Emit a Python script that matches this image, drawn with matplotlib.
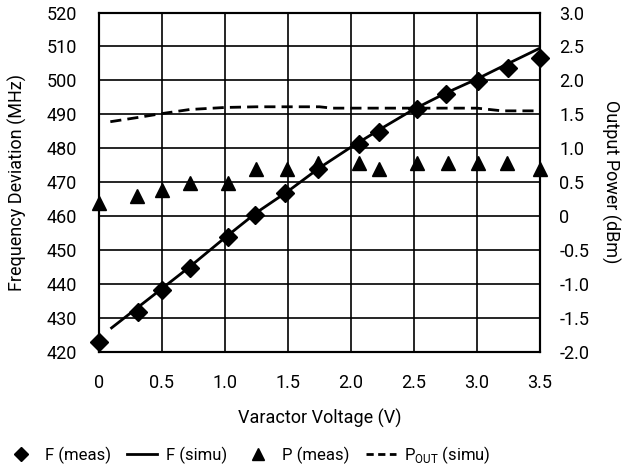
import matplotlib
matplotlib.use("Agg")
import matplotlib.pyplot as plt
from matplotlib.lines import Line2D

plt.rcParams['font.family'] = ['Roboto', 'DejaVu Sans']

# F (meas)
f_meas_v = [0, 0.31, 0.5, 0.72, 1.02, 1.24, 1.48, 1.735, 2.06, 2.22, 2.52, 2.755, 3.01, 3.25, 3.5]
f_meas = [422.7, 431.7, 438.3, 444.7, 453.7, 460.3, 466.7, 474.0, 481.2, 484.8, 491.5, 495.9, 499.9, 503.5, 506.5]

# F (simu)
f_simu_v = [0.1, 0.3, 0.5, 0.72, 1.0, 1.25, 1.5, 1.75, 2.0, 2.25, 2.5, 2.75, 3.0, 3.25, 3.5]
f_simu = [427.0, 432.8, 438.6, 445.0, 453.6, 461.0, 467.3, 474.2, 480.3, 486.0, 491.5, 496.2, 500.4, 505.0, 509.5]

# P (meas)
p_meas_v = [0, 0.3, 0.5, 0.72, 1.02, 1.25, 1.49, 1.735, 2.06, 2.22, 2.52, 2.77, 3.01, 3.24, 3.5]
p_meas = [0.19, 0.29, 0.38, 0.49, 0.49, 0.69, 0.69, 0.78, 0.78, 0.70, 0.78, 0.78, 0.78, 0.78, 0.70]

# P_OUT (simu)
p_simu_v = [0.09, 0.3, 0.5, 0.72, 1.0, 1.25, 1.5, 1.75, 1.85, 2.0, 2.5, 3.0, 3.2, 3.46]
p_simu = [1.39, 1.45, 1.51, 1.57, 1.60, 1.61, 1.61, 1.61, 1.59, 1.59, 1.59, 1.59, 1.55, 1.55]

x_ticks = [0, 0.5, 1.0, 1.5, 2.0, 2.5, 3.0, 3.5]
x_labels = ['0', '0.5', '1.0', '1.5', '2.0', '2.5', '3.0', '3.5']
yl_ticks = list(range(420, 521, 10))
yr_ticks = [-2.0, -1.5, -1.0, -0.5, 0, 0.5, 1.0, 1.5, 2.0, 2.5, 3.0]
yr_labels = ['-2.0', '-1.5', '-1.0', '-0.5', '0', '0.5', '1.0', '1.5', '2.0', '2.5', '3.0']

fig = plt.figure(figsize=(6.37, 4.69), dpi=100)
ax = fig.add_axes([0.1554, 0.2503, 0.6923, 0.7230])
ax2 = ax.twinx()

fs = 13
ax.plot(f_simu_v, f_simu, color='black', lw=2, zorder=3)
ax.plot(f_meas_v, f_meas, linestyle='none', marker='D', color='black', ms=9, zorder=4, clip_on=False)
ax2.plot(p_simu_v, p_simu, color='black', lw=2, linestyle=(0, (4, 2.2)), zorder=3)
ax2.plot(p_meas_v, p_meas, linestyle='none', marker='^', color='black', ms=10, zorder=4, clip_on=False)

ax.set_xlim(0, 3.5)
ax.set_ylim(420, 520)
ax2.set_ylim(-2.0, 3.0)
ax.set_xticks(x_ticks)
ax.set_xticklabels(x_labels)
ax.set_yticks(yl_ticks)
ax2.set_yticks(yr_ticks)
ax2.set_yticklabels(yr_labels)
ax.grid(True, color='black', lw=1.2)
ax.set_axisbelow(True)
for a in (ax, ax2):
    for s in a.spines.values():
        s.set_linewidth(1.5)
ax.tick_params(axis='both', length=0, labelsize=fs)
ax.tick_params(axis='y', pad=16)
ax.tick_params(axis='x', pad=16)
ax2.tick_params(axis='y', length=0, labelsize=fs, pad=14)

ax.set_xlabel('Varactor Voltage (V)', fontsize=fs, labelpad=12)
ax.set_ylabel('Frequency Deviation (MHz)', fontsize=fs, labelpad=14)
ax2.set_ylabel('Output Power (dBm)', fontsize=fs, rotation=-90, labelpad=22)

handles = [
    Line2D([], [], linestyle='none', marker='D', color='black', ms=7),
    Line2D([], [], color='black', lw=2),
    Line2D([], [], linestyle='none', marker='^', color='black', ms=8),
    Line2D([], [], color='black', lw=2, linestyle=(0, (2.6, 1.6))),
]
labels = ['F (meas)', 'F (simu)', 'P (meas)', r'P$_{\mathregular{OUT}}$ (simu)']
fig.legend(handles, labels, loc='lower center', bbox_to_anchor=(0.39, -0.025), ncol=4,
           frameon=False, fontsize=12, handlelength=1.8, columnspacing=1.0, handletextpad=0.5)

fig.savefig('out.png', dpi=100)
